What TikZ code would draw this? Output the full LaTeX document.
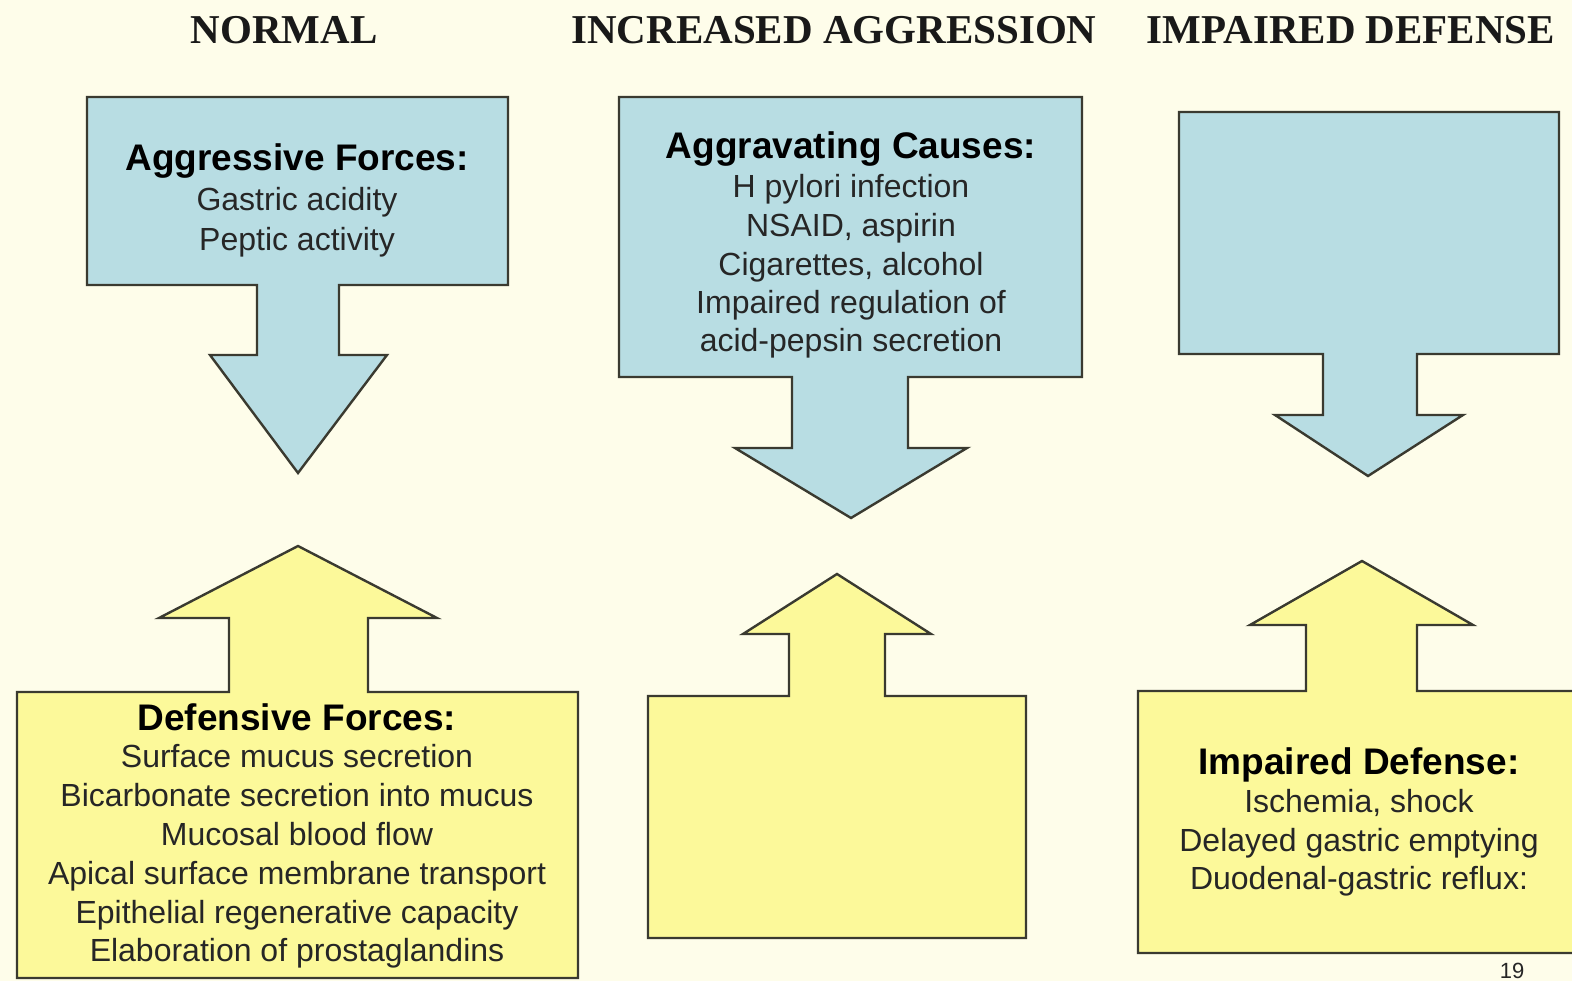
\documentclass[tikz,border=0pt]{standalone}
\usepackage{fontspec}
\setmainfont{Liberation Sans}
\newfontfamily\headfont{Liberation Serif}
\definecolor{bgc}{HTML}{FEFDEA}
\definecolor{bluef}{HTML}{B8DDE3}
\definecolor{yelf}{HTML}{FCF99A}
\definecolor{edgec}{HTML}{3A3A30}
\definecolor{txtc}{HTML}{262626}
\begin{document}
\begin{tikzpicture}[x=1pt,y=-1pt,
  shapeb/.style={fill=bluef,draw=edgec,line width=2.4pt,line join=miter},
  shapey/.style={fill=yelf,draw=edgec,line width=2.4pt,line join=miter},
  head/.style={font=\headfont\bfseries\fontsize{41}{45}\selectfont,anchor=base,inner sep=0pt,text=black!90},
  ttl/.style={font=\bfseries\fontsize{37}{40}\selectfont,inner sep=0pt,text height=26.5pt,text depth=0pt,anchor=center,text=black},
  itm/.style={font=\fontsize{32}{36}\selectfont,inner sep=0pt,text height=23pt,text depth=0pt,anchor=center,text=txtc}]
\useasboundingbox (0,0) rectangle (1572,981);
\clip (0,0) rectangle (1572,981);
\fill[bgc] (0,0) rectangle (1572,981);

% headings
\node[head] (hnormal) at (284,44) {NORMAL};
\node[head] (hincr) at (834,44) {INCREASED AGGRESSION};
\node[head] (himp) at (1351,44) {IMPAIRED DEFENSE};

% blue shapes (box + down arrow)
\draw[shapeb] (87,97) -- (508,97) -- (508,285) -- (339,285) -- (339,355) -- (387,355) -- (298,473) -- (210,355) -- (257,355) -- (257,285) -- (87,285) -- cycle;
\draw[shapeb] (619,97) -- (1082,97) -- (1082,377) -- (908,377) -- (908,448) -- (967,448) -- (851,518) -- (735,448) -- (792,448) -- (792,377) -- (619,377) -- cycle;
\draw[shapeb] (1179,112) -- (1559,112) -- (1559,354) -- (1417,354) -- (1417,415) -- (1463,415) -- (1368,476) -- (1275,415) -- (1323,415) -- (1323,354) -- (1179,354) -- cycle;

% yellow shapes (box + up arrow)
\draw[shapey] (17,692) -- (229,692) -- (229,618) -- (159,618) -- (298,546) -- (437,618) -- (368,618) -- (368,692) -- (578,692) -- (578,978) -- (17,978) -- cycle;
\draw[shapey] (648,696) -- (789,696) -- (789,634) -- (743,634) -- (837,574) -- (931,634) -- (885,634) -- (885,696) -- (1026,696) -- (1026,938) -- (648,938) -- cycle;
\draw[shapey] (1138,691) -- (1306,691) -- (1306,625) -- (1250,625) -- (1362,561) -- (1473,625) -- (1417,625) -- (1417,691) -- (1590,691) -- (1590,953) -- (1138,953) -- cycle;

% box 1 text
\node[ttl] (agg) at (297,157) {Aggressive Forces:};
\node[itm] (agg1) at (297,199) {Gastric acidity};
\node[itm] (agg2) at (297,239) {Peptic activity};

% box 2 text
\node[ttl] (cause) at (851,145) {Aggravating Causes:};
\node[itm] (cause1) at (851,186) {H pylori infection};
\node[itm] (cause2) at (851,225) {NSAID, aspirin};
\node[itm] (cause3) at (851,264) {Cigarettes, alcohol};
\node[itm] (cause4) at (851,302) {Impaired regulation of};
\node[itm] (cause5) at (851,340) {acid-pepsin secretion};

% yellow 1 text
\node[ttl] (def) at (297,717) {Defensive Forces:};
\node[itm] (def1) at (297,756) {Surface mucus secretion};
\node[itm] (def2) at (297,795) {Bicarbonate secretion into mucus};
\node[itm] (def3) at (297,834) {Mucosal blood flow};
\node[itm] (def4) at (297,873) {Apical surface membrane transport};
\node[itm] (def5) at (297,912) {Epithelial regenerative capacity};
\node[itm] (def6) at (297,950) {Elaboration of prostaglandins};

% yellow 3 text
\node[ttl] (imp) at (1359,761) {Impaired Defense:};
\node[itm] (imp1) at (1359,801) {Ischemia, shock};
\node[itm] (imp2) at (1359,840) {Delayed gastric emptying};
\node[itm] (imp3) at (1359,878) {Duodenal-gastric reflux:};

% page number
\node[font=\fontsize{22}{24}\selectfont,anchor=base,inner sep=0pt,text=txtc] (pg) at (1512,978) {19};
\end{tikzpicture}
\end{document}
